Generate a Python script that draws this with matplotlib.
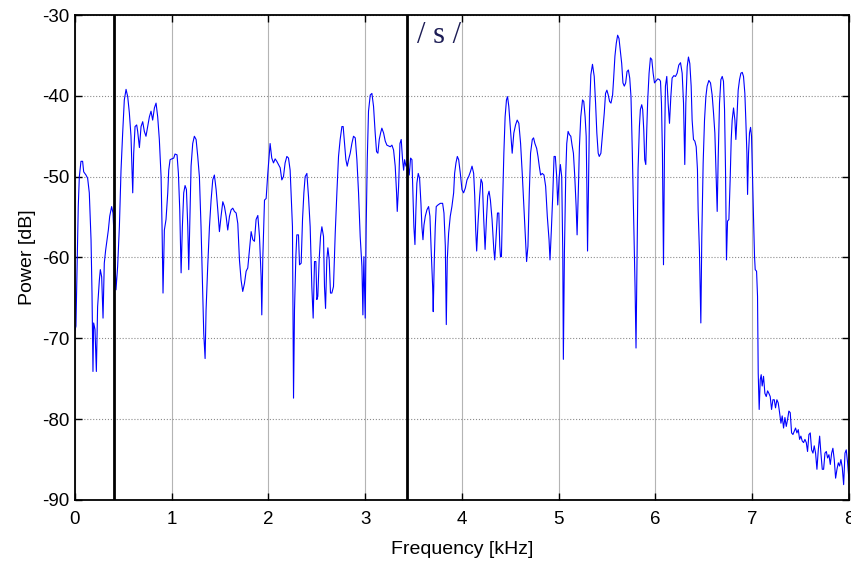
import numpy as np
import matplotlib
matplotlib.use('Agg')
import matplotlib.pyplot as plt


# spectrum of the fricative segment, frequency in kHz and power in dB
freq_khz = [
    0.000, 0.010, 0.034, 0.045, 0.062, 0.079, 0.090, 0.114, 0.131, 0.148,
    0.166, 0.176, 0.186, 0.193, 0.207, 0.221, 0.234, 0.252, 0.262, 0.276,
    0.290, 0.303, 0.317, 0.331, 0.345, 0.359, 0.379, 0.393, 0.407, 0.424,
    0.441, 0.459, 0.476, 0.493, 0.510, 0.528, 0.545, 0.562, 0.579, 0.597,
    0.607, 0.621, 0.638, 0.648, 0.666, 0.683, 0.700, 0.717, 0.734, 0.752,
    0.769, 0.786, 0.803, 0.821, 0.838, 0.855, 0.872, 0.890, 0.900, 0.910,
    0.924, 0.941, 0.959, 0.969, 0.983, 1.000, 1.021, 1.034, 1.055, 1.069,
    1.083, 1.097, 1.110, 1.124, 1.138, 1.152, 1.166, 1.176, 1.186, 1.200,
    1.217, 1.234, 1.252, 1.269, 1.286, 1.303, 1.321, 1.331, 1.345, 1.355,
    1.372, 1.390, 1.407, 1.424, 1.441, 1.459, 1.476, 1.493, 1.510, 1.528,
    1.545, 1.562, 1.579, 1.597, 1.614, 1.631, 1.648, 1.666, 1.683, 1.700,
    1.717, 1.734, 1.752, 1.769, 1.786, 1.803, 1.821, 1.838, 1.855, 1.872,
    1.890, 1.907, 1.924, 1.931, 1.941, 1.959, 1.976, 1.993, 2.017, 2.034,
    2.052, 2.069, 2.086, 2.103, 2.121, 2.138, 2.155, 2.172, 2.190, 2.207,
    2.224, 2.234, 2.248, 2.259, 2.269, 2.283, 2.293, 2.310, 2.321, 2.338,
    2.352, 2.366, 2.379, 2.397, 2.414, 2.431, 2.448, 2.462, 2.476, 2.490,
    2.500, 2.510, 2.524, 2.538, 2.552, 2.569, 2.579, 2.590, 2.603, 2.614,
    2.628, 2.641, 2.655, 2.672, 2.690, 2.707, 2.724, 2.741, 2.759, 2.772,
    2.786, 2.800, 2.814, 2.828, 2.845, 2.862, 2.879, 2.897, 2.914, 2.931,
    2.948, 2.966, 2.976, 2.986, 3.000, 3.010, 3.021, 3.034, 3.052, 3.069,
    3.086, 3.103, 3.117, 3.131, 3.145, 3.159, 3.172, 3.190, 3.207, 3.224,
    3.241, 3.259, 3.276, 3.293, 3.310, 3.324, 3.331, 3.345, 3.359, 3.372,
    3.386, 3.397, 3.407, 3.421, 3.441, 3.455, 3.469, 3.483, 3.493, 3.503,
    3.514, 3.524, 3.534, 3.548, 3.562, 3.576, 3.586, 3.597, 3.607, 3.621,
    3.638, 3.655, 3.669, 3.683, 3.697, 3.703, 3.714, 3.724, 3.734, 3.752,
    3.776, 3.800, 3.814, 3.828, 3.838, 3.848, 3.862, 3.879, 3.896, 3.914,
    3.924, 3.938, 3.952, 3.966, 3.983, 4.000, 4.017, 4.035, 4.052, 4.069,
    4.087, 4.104, 4.121, 4.132, 4.142, 4.152, 4.166, 4.183, 4.197, 4.211,
    4.225, 4.239, 4.253, 4.266, 4.280, 4.294, 4.311, 4.329, 4.339, 4.353,
    4.367, 4.381, 4.391, 4.398, 4.408, 4.419, 4.433, 4.446, 4.460, 4.471,
    4.484, 4.502, 4.519, 4.536, 4.554, 4.571, 4.588, 4.606, 4.623, 4.640,
    4.657, 4.668, 4.682, 4.696, 4.709, 4.727, 4.740, 4.754, 4.772, 4.786,
    4.799, 4.813, 4.830, 4.848, 4.865, 4.882, 4.900, 4.910, 4.924, 4.938,
    4.952, 4.965, 4.979, 4.990, 5.004, 5.017, 5.031, 5.042, 5.048, 5.059,
    5.073, 5.083, 5.097, 5.111, 5.125, 5.138, 5.152, 5.166, 5.180, 5.190,
    5.204, 5.214, 5.228, 5.246, 5.259, 5.273, 5.284, 5.291, 5.298, 5.308,
    5.318, 5.332, 5.349, 5.367, 5.381, 5.394, 5.408, 5.419, 5.436, 5.453,
    5.471, 5.484, 5.498, 5.512, 5.526, 5.540, 5.557, 5.567, 5.581, 5.595,
    5.609, 5.623, 5.637, 5.651, 5.664, 5.678, 5.692, 5.706, 5.720, 5.734,
    5.747, 5.761, 5.775, 5.789, 5.799, 5.810, 5.820, 5.834, 5.844, 5.858,
    5.868, 5.879, 5.889, 5.900, 5.910, 5.920, 5.934, 5.948, 5.962, 5.976,
    5.990, 6.003, 6.024, 6.042, 6.052, 6.062, 6.072, 6.083, 6.093, 6.103,
    6.117, 6.131, 6.145, 6.159, 6.172, 6.190, 6.207, 6.224, 6.241, 6.259,
    6.276, 6.290, 6.303, 6.314, 6.328, 6.341, 6.355, 6.369, 6.379, 6.393,
    6.407, 6.421, 6.434, 6.441, 6.455, 6.469, 6.479, 6.493, 6.507, 6.521,
    6.534, 6.552, 6.569, 6.586, 6.600, 6.614, 6.628, 6.638, 6.648, 6.662,
    6.676, 6.690, 6.703, 6.714, 6.724, 6.734, 6.745, 6.759, 6.772, 6.783,
    6.793, 6.807, 6.821, 6.831, 6.841, 6.855, 6.869, 6.883, 6.897, 6.910,
    6.924, 6.934, 6.945, 6.952, 6.962, 6.972, 6.983, 6.993, 7.003, 7.014,
    7.024, 7.031, 7.045, 7.055, 7.062, 7.072, 7.083, 7.093, 7.103, 7.117,
    7.131, 7.145, 7.159, 7.172, 7.186, 7.200, 7.214, 7.228, 7.241, 7.255,
    7.269, 7.283, 7.297, 7.310, 7.324, 7.338, 7.352, 7.366, 7.379, 7.393,
    7.407, 7.421, 7.434, 7.448, 7.462, 7.476, 7.490, 7.503, 7.517, 7.531,
    7.545, 7.559, 7.572, 7.586, 7.600, 7.614, 7.628, 7.641, 7.655, 7.669,
    7.683, 7.697, 7.710, 7.724, 7.738, 7.752, 7.766, 7.779, 7.793, 7.807,
    7.821, 7.834, 7.848, 7.862, 7.876, 7.890, 7.903, 7.917, 7.931, 7.945,
    7.959, 7.972, 7.986, 8.000,
]

power_db = [
    -69.0, -68.5, -53.7, -50.0, -48.1, -48.1, -49.4, -49.8, -50.2, -52.0,
    -57.8, -64.4, -74.1, -68.1, -68.9, -74.1, -66.1, -62.8, -61.5, -62.4,
    -67.5, -60.7, -59.1, -57.8, -56.6, -54.9, -53.7, -54.5, -58.2, -64.0,
    -61.1, -56.2, -49.2, -44.6, -40.5, -39.2, -40.1, -42.1, -45.0, -52.0,
    -47.1, -43.8, -43.6, -44.4, -46.4, -43.8, -43.2, -44.4, -45.0, -43.8,
    -42.6, -41.9, -43.0, -41.5, -40.9, -42.6, -45.4, -50.0, -56.2, -64.4,
    -56.6, -55.3, -52.0, -49.2, -47.9, -47.8, -47.7, -47.2, -47.3, -49.6,
    -54.1, -61.9, -56.2, -52.0, -51.1, -51.6, -56.2, -61.5, -56.2, -48.7,
    -45.9, -45.0, -45.4, -47.5, -50.0, -56.2, -64.4, -69.4, -72.5, -66.5,
    -61.1, -56.2, -52.9, -50.4, -49.8, -51.6, -54.1, -56.8, -54.9, -53.1,
    -53.7, -54.9, -56.6, -54.9, -54.1, -53.9, -54.3, -54.5, -55.8, -60.3,
    -62.8, -64.2, -63.2, -61.7, -61.3, -59.1, -56.8, -57.8, -58.0, -55.3,
    -54.8, -57.4, -62.4, -67.1, -60.3, -52.9, -52.7, -49.6, -45.9, -47.7,
    -48.3, -47.8, -48.1, -48.5, -48.9, -50.4, -50.0, -48.3, -47.5, -47.7,
    -49.2, -52.0, -56.2, -77.4, -66.5, -59.9, -57.2, -57.2, -60.9, -60.7,
    -55.3, -52.0, -50.0, -49.6, -52.5, -56.2, -63.6, -67.5, -60.5, -60.5,
    -65.2, -64.8, -60.3, -57.4, -56.2, -57.4, -63.6, -66.3, -60.3, -58.8,
    -60.3, -64.4, -64.4, -63.6, -57.0, -52.0, -47.5, -45.4, -43.8, -43.8,
    -45.9, -47.9, -48.7, -47.9, -47.1, -45.9, -45.0, -45.2, -47.9, -52.0,
    -57.4, -61.1, -67.1, -59.9, -67.5, -56.2, -47.9, -41.9, -39.9, -39.7,
    -41.3, -44.6, -46.9, -47.1, -45.4, -44.6, -44.0, -44.6, -45.6, -46.1,
    -46.2, -46.3, -46.1, -46.7, -48.7, -52.0, -54.3, -51.2, -45.9, -45.4,
    -47.9, -49.2, -47.9, -48.7, -48.3, -49.8, -47.7, -47.9, -52.0, -56.2,
    -58.4, -54.1, -50.8, -49.6, -50.2, -53.3, -56.2, -57.8, -56.0, -54.9,
    -54.1, -53.7, -54.9, -59.5, -63.6, -66.7, -60.3, -56.2, -53.7, -53.5,
    -53.3, -53.3, -54.5, -58.6, -68.3, -60.3, -57.0, -54.9, -53.7, -52.0,
    -49.6, -48.3, -47.5, -47.9, -49.6, -51.6, -52.0, -51.4, -50.4, -50.0,
    -49.4, -48.7, -49.6, -52.4, -56.6, -59.2, -55.7, -52.4, -50.3, -50.8,
    -55.3, -59.0, -55.3, -52.4, -51.8, -52.9, -55.3, -59.0, -60.3, -57.4,
    -54.5, -54.5, -58.6, -59.9, -59.9, -53.7, -47.1, -42.6, -40.5, -40.1,
    -41.3, -44.2, -47.1, -44.6, -43.6, -43.0, -43.4, -45.9, -49.6, -53.7,
    -57.8, -60.5, -58.6, -52.0, -47.1, -45.4, -45.2, -45.9, -46.5, -47.5,
    -48.7, -49.8, -49.6, -49.8, -51.2, -54.9, -57.8, -60.3, -56.6, -52.4,
    -47.5, -47.5, -50.0, -53.5, -50.2, -48.5, -50.0, -59.4, -72.6, -59.4,
    -49.6, -45.9, -44.4, -44.8, -45.0, -46.1, -47.1, -50.0, -53.7, -57.2,
    -51.2, -46.3, -42.6, -40.5, -40.7, -42.6, -45.0, -51.2, -59.2, -51.2,
    -42.1, -37.4, -36.1, -37.6, -40.9, -44.6, -47.1, -47.5, -47.1, -44.6,
    -42.1, -39.7, -39.3, -39.9, -40.7, -40.9, -39.9, -38.0, -35.1, -33.5,
    -32.5, -32.9, -34.5, -36.0, -38.4, -38.8, -38.4, -37.0, -36.8, -37.8,
    -40.1, -47.1, -55.3, -63.6, -71.2, -59.4, -49.1, -43.8, -41.7, -41.1,
    -41.7, -44.2, -47.9, -48.5, -44.2, -40.5, -37.2, -35.3, -35.5, -37.2,
    -38.4, -38.2, -37.9, -38.0, -38.2, -40.9, -47.1, -60.9, -47.1, -38.8,
    -37.6, -40.9, -43.4, -40.1, -37.8, -37.5, -37.6, -37.2, -36.2, -35.9,
    -37.2, -40.9, -48.5, -40.9, -36.4, -35.2, -36.0, -38.8, -43.0, -45.4,
    -45.6, -46.3, -49.1, -54.1, -59.4, -68.1, -57.4, -48.3, -43.0, -40.1,
    -38.8, -38.1, -38.4, -39.9, -42.1, -44.6, -50.4, -54.3, -47.9, -40.9,
    -38.0, -37.6, -38.2, -41.7, -49.1, -60.3, -55.5, -55.3, -50.4, -45.4,
    -43.0, -41.5, -43.0, -45.4, -43.0, -39.3, -38.0, -37.2, -37.1, -37.6,
    -39.7, -43.0, -47.1, -52.2, -47.1, -44.6, -43.9, -45.0, -50.0, -55.3,
    -59.9, -61.5, -61.7, -64.8, -74.3, -78.8, -75.1, -74.5, -75.9, -74.7,
    -76.8, -77.2, -76.5, -76.8, -77.2, -78.8, -77.6, -77.6, -78.6, -77.6,
    -78.0, -79.2, -80.5, -79.6, -81.1, -79.8, -80.9, -80.0, -79.0, -79.2,
    -81.7, -81.9, -81.5, -81.1, -81.7, -81.3, -82.5, -82.1, -82.7, -82.9,
    -82.5, -82.9, -84.0, -81.9, -81.7, -83.8, -84.2, -83.3, -84.2, -86.2,
    -83.8, -82.1, -84.2, -86.2, -86.2, -84.2, -84.0, -84.8, -84.4, -85.6,
    -84.2, -83.6, -85.0, -87.3, -86.2, -85.4, -85.8, -85.0, -86.0, -88.1,
    -84.2, -83.8, -85.4, -87.5,
]

# segment boundaries of the /s/ sound
boundaries_khz = [0.40, 3.43]
segment_label = '/ s /'

xticks = [0, 1, 2, 3, 4, 5, 6, 7, 8]
yticks = [-90, -80, -70, -60, -50, -40, -30]

plt.rcParams['font.family'] = ['Liberation Sans', 'DejaVu Sans']
plt.rcParams['axes.unicode_minus'] = False

fig = plt.figure(figsize=(8.51, 5.64), dpi=100)
ax = fig.add_axes([0.0881, 0.1135, 0.9095, 0.8599])

ax.plot(freq_khz, power_db, color='#0000ff', linewidth=0.8)
for b in boundaries_khz:
    ax.axvline(b, color='black', linewidth=2.0)

ax.text(3.54, -33.5, segment_label, fontsize=22, color='#1c1c55',
        fontfamily='Liberation Serif', va='baseline', ha='left')

ax.set_xlim(0, 8)
ax.set_ylim(-90, -30)
ax.set_xticks(xticks)
ax.set_yticks(yticks)

ax.xaxis.grid(True, color='#b4b4b4', linestyle='-', linewidth=0.8)
ax.yaxis.grid(True, color='#8c8c8c', linestyle=':', linewidth=0.8)
ax.set_axisbelow(True)

ax.tick_params(direction='in', length=5, width=1, top=True, right=True,
               labelsize=13.5, colors='black')
ax.tick_params(axis='x', pad=8)
ax.tick_params(axis='y', pad=4)
for s in ax.spines.values():
    s.set_linewidth(1.3)

ax.set_xlabel('Frequency [kHz]', fontsize=14, labelpad=9)
ax.set_ylabel('Power [dB]', fontsize=14, labelpad=4)

plt.savefig('out.png', dpi=100)
